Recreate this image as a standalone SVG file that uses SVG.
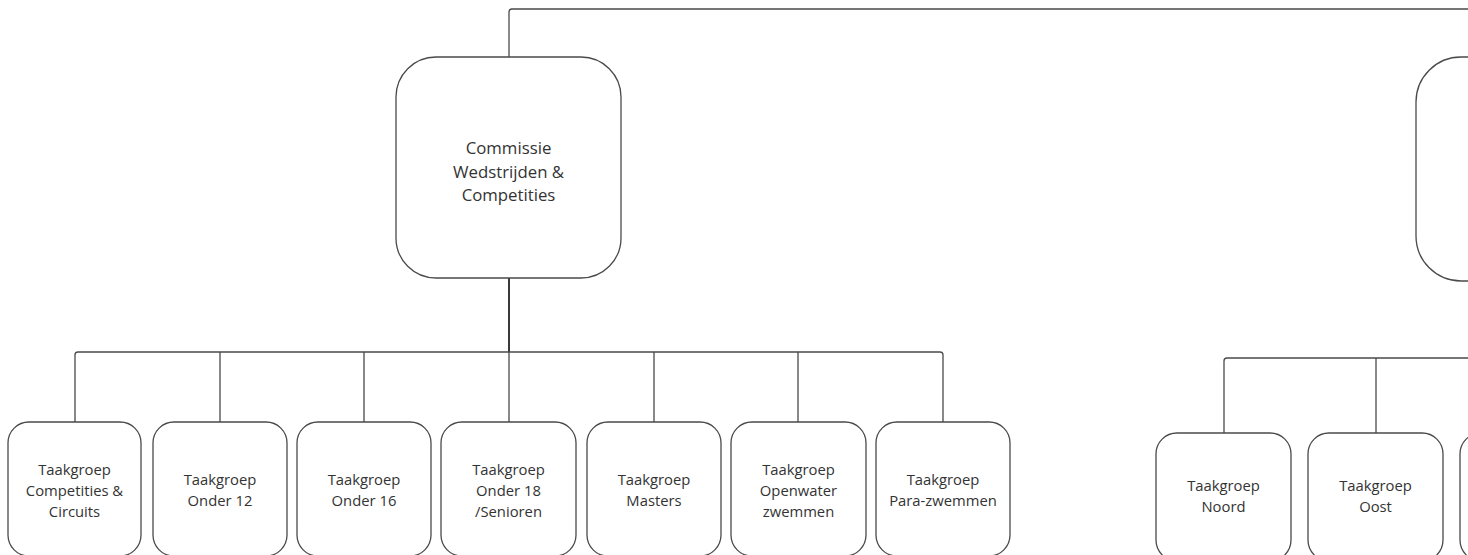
<svg xmlns="http://www.w3.org/2000/svg" width="1468" height="555" viewBox="0 0 1468 555">
<style>
.box{fill:#fff;stroke:#4a4a4a;stroke-width:1.3}
.ln{fill:none;stroke:#4a4a4a;stroke-width:1.3}
.thick{fill:none;stroke:#3a3a3a;stroke-width:2}
text{font-family:"Open Sans","Noto Sans","Liberation Sans",sans-serif;fill:#333;text-anchor:middle}
.s{font-size:14.8px}
.m{font-size:16.8px}
</style>
<rect width="1468" height="555" fill="#fff"/>
<g id="connectors">
<path class="ln" d="M509 57 V12 Q509 9 512 9 H1468"/>
<path class="thick" d="M509 278 V352"/>
<path class="ln" d="M75 422 V355 Q75 352 78 352 H940 Q943 352 943 355 V422"/>
<path class="ln" d="M220 352 V422 M364 352 V422 M509 352 V422 M654 352 V422 M798 352 V422"/>
<path class="ln" d="M1224 433 V361 Q1224 358 1227 358 H1468"/>
<path class="ln" d="M1376 358 V433"/>
</g>
<g id="commissie">
<rect class="box" x="396" y="57" width="225" height="221" rx="40"/>
<text class="m" x="508.5" y="154">Commissie</text>
<text class="m" x="508.5" y="177.5">Wedstrijden &amp;</text>
<text class="m" x="508.5" y="201">Competities</text>
</g>
<g id="commissie2">
<rect class="box" x="1416" y="57" width="120" height="224" rx="45"/>
</g>
<g id="tg-competities">
<rect class="box" x="8" y="422" width="133" height="134" rx="21"/>
<text class="s" x="74.5" y="475">Taakgroep</text>
<text class="s" x="74.5" y="496">Competities &amp;</text>
<text class="s" x="74.5" y="517">Circuits</text>
</g>
<g id="tg-onder12">
<rect class="box" x="153" y="422" width="134" height="134" rx="21"/>
<text class="s" x="220" y="485">Taakgroep</text>
<text class="s" x="220" y="506">Onder 12</text>
</g>
<g id="tg-onder16">
<rect class="box" x="297" y="422" width="134" height="134" rx="21"/>
<text class="s" x="364" y="485">Taakgroep</text>
<text class="s" x="364" y="506">Onder 16</text>
</g>
<g id="tg-onder18">
<rect class="box" x="441" y="422" width="135" height="134" rx="21"/>
<text class="s" x="508.5" y="475">Taakgroep</text>
<text class="s" x="508.5" y="496">Onder 18</text>
<text class="s" x="508.5" y="517">/Senioren</text>
</g>
<g id="tg-masters">
<rect class="box" x="587" y="422" width="134" height="134" rx="21"/>
<text class="s" x="654" y="485">Taakgroep</text>
<text class="s" x="654" y="506">Masters</text>
</g>
<g id="tg-openwater">
<rect class="box" x="731" y="422" width="135" height="134" rx="21"/>
<text class="s" x="798.5" y="475">Taakgroep</text>
<text class="s" x="798.5" y="496">Openwater</text>
<text class="s" x="798.5" y="517">zwemmen</text>
</g>
<g id="tg-para">
<rect class="box" x="876" y="422" width="134" height="134" rx="21"/>
<text class="s" x="943" y="485">Taakgroep</text>
<text class="s" x="943" y="506">Para-zwemmen</text>
</g>
<g id="tg-noord">
<rect class="box" x="1156" y="433" width="135" height="128" rx="21"/>
<text class="s" x="1223.5" y="491">Taakgroep</text>
<text class="s" x="1223.5" y="512">Noord</text>
</g>
<g id="tg-oost">
<rect class="box" x="1308" y="433" width="135" height="128" rx="21"/>
<text class="s" x="1375.5" y="491">Taakgroep</text>
<text class="s" x="1375.5" y="512">Oost</text>
</g>
<g id="tg-third">
<rect class="box" x="1460" y="433" width="135" height="128" rx="21"/>
</g>
</svg>
